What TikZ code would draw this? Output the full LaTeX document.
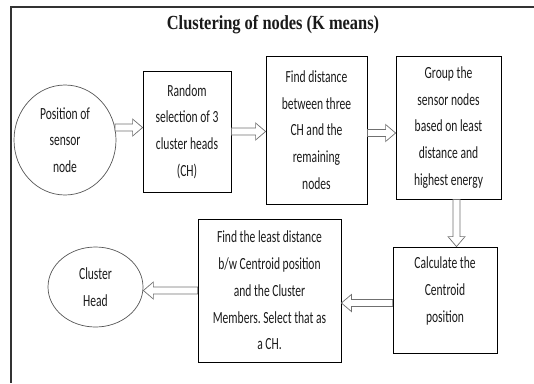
\documentclass[tikz,border=0pt]{standalone}
\usepackage{fontspec}
\usetikzlibrary{calc,shapes.geometric}
\newfontfamily\bodyfont[FakeStretch=0.68]{Carlito}
\newfontfamily\titlefont[FakeStretch=0.82]{Liberation Serif}
\definecolor{framegray}{HTML}{333333}
\definecolor{ovalgray}{HTML}{555555}
\definecolor{arrowgray}{HTML}{707070}
\definecolor{inkblack}{HTML}{1A1A1A}
\frenchspacing

\tikzset{
  bodytext/.style={font=\bodyfont\fontsize{17}{26.7}\selectfont, text=inkblack, align=center},
  stepbox/.style={draw=black, line width=0.8pt, inner sep=0pt, bodytext},
  oval/.style={ellipse, draw=ovalgray, line width=0.7pt, inner sep=0pt, bodytext},
  % block arrow with a hollow shaft and head, drawn between two points
  hollow arrow/.style={draw=arrowgray, fill=white, line width=0.7pt, line join=miter,
    to path={
      let \p1=(\tikztostart), \p2=(\tikztotarget),
          \n1={atan2(\y2-\y1,\x2-\x1)} in
      ($(\p1)+({\n1+90}:3.5pt)$)
      -- ($(\p2)+({\n1+180}:10pt)+({\n1+90}:3.5pt)$)
      -- ($(\p2)+({\n1+180}:10pt)+({\n1+90}:8.5pt)$)
      -- (\p2)
      -- ($(\p2)+({\n1+180}:10pt)+({\n1-90}:8.5pt)$)
      -- ($(\p2)+({\n1+180}:10pt)+({\n1-90}:3.5pt)$)
      -- ($(\p1)+({\n1-90}:3.5pt)$)
      -- cycle
    }},
}

\begin{document}
\begin{tikzpicture}[x=1pt, y=-1pt]
\useasboundingbox (0,0) rectangle (534,383);

% frame
\coordinate (ftl) at (11,7);
\coordinate (ftr) at (534,7);
\coordinate (fbl) at (11,383);
\draw[framegray, line width=1.2pt] (ftr) -- (ftl) -- (fbl);

% title
\node[font=\titlefont\bfseries\fontsize{20}{22}\selectfont, text=inkblack] (title) at (273,25)
  {Clustering of nodes (K means)};

% upper row
\node[oval, minimum width=102pt, minimum height=110pt] (pos) at (65,140)
  {Position of\\sensor\\node};
\node[stepbox, minimum width=88pt, minimum height=121pt] (rand) at (187,131.5)
  {Random\\selection of 3\\cluster heads\\(CH)};
\node[stepbox, minimum width=101pt, minimum height=148pt] (dist) at (316.5,130)
  {Find distance\\between three\\CH and the\\remaining\\nodes};
\node[stepbox, minimum width=105pt, minimum height=143pt] (group) at (448.5,127.5)
  {Group the\\sensor nodes\\based on least\\distance and\\highest energy};

% lower row
\node[stepbox, minimum width=104pt, minimum height=106pt,
  label={[bodytext, yshift=9pt]center:{Calculate the\\Centroid\\position}}]
  (calc) at (445,300) {};
\node[stepbox, minimum width=143pt, minimum height=143pt] (least) at (269.5,290.5)
  {Find the least distance\\b/w Centroid position\\and the Cluster\\Members. Select that as\\a CH.};
\node[oval, minimum width=95pt, minimum height=80pt] (head) at (95.5,287)
  {Cluster\\Head};

% connectors
\draw[hollow arrow] (pos.14) to (pos.14 -| rand.west);
\draw[hollow arrow] (rand.east) to (rand.east -| dist.west);
\draw[hollow arrow] ([yshift=-3pt]dist.east) to ([yshift=-3pt]dist.east -| group.west);
\draw[hollow arrow] ([xshift=8pt]group.south) to ([xshift=8pt]group.south |- calc.north);
\draw[hollow arrow] ([yshift=-3pt]calc.west) to ([yshift=-3pt]calc.west -| least.east);
\draw[hollow arrow] (least.west) to (least.west -| head.east);
\end{tikzpicture}
\end{document}
